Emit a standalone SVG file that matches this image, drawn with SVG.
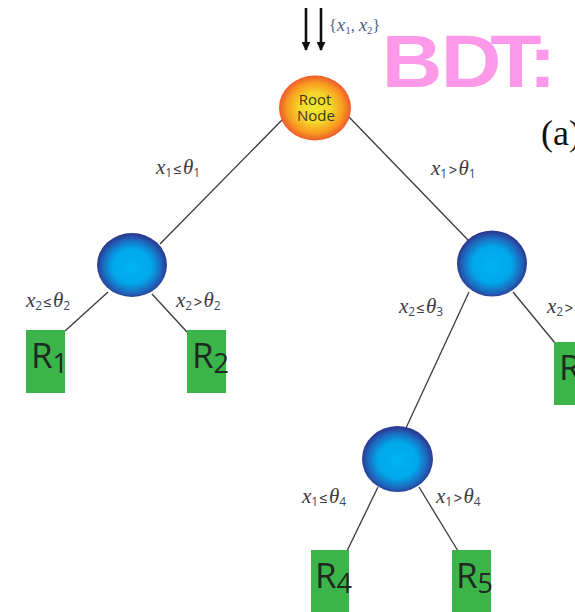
<svg xmlns="http://www.w3.org/2000/svg" width="575" height="612" viewBox="0 0 575 612">
  <defs>
    <radialGradient id="gBlue" cx="50%" cy="52%" r="50%">
      <stop offset="0" stop-color="#00b2f0"/>
      <stop offset="0.55" stop-color="#00a8ea"/>
      <stop offset="0.82" stop-color="#1c6cc0"/>
      <stop offset="1" stop-color="#2a3a92"/>
    </radialGradient>
    <radialGradient id="gRoot" cx="50%" cy="50%" r="50%">
      <stop offset="0" stop-color="#efe631"/>
      <stop offset="0.45" stop-color="#f4d62a"/>
      <stop offset="0.78" stop-color="#f79a1f"/>
      <stop offset="1" stop-color="#ee5a2c"/>
    </radialGradient>
    <marker id="arrow" viewBox="0 0 10 10" refX="9" refY="5" markerWidth="3.4" markerHeight="3.4" orient="auto" markerUnits="strokeWidth">
      <path d="M0,0 L10,5 L0,10 Z" fill="#111"/>
    </marker>
  </defs>
  <style>
    .edge { stroke: #3a3a3a; stroke-width: 1.3; fill: none; }
    .inp { stroke: #111; stroke-width: 2.6; marker-end: url(#arrow); }
    .leaf { fill: #3bb54a; }
    .leaftxt { font-family: "Open Sans", "Liberation Sans", sans-serif; font-size: 35px; fill: #1e2a1e; }
    .leafsub { font-size: 27px; }
    .lbl { font-family: "Liberation Serif", serif; fill: #3e3840; }
    .v { font-style: italic; font-size: 21px; }
    .op { font-family: "Liberation Sans", sans-serif; font-size: 14px; }
    .s { font-family: "Open Sans", "Liberation Sans", sans-serif; font-size: 12px; fill: #3a4a6a; }
    .roottxt { font-family: "Open Sans", "Liberation Sans", sans-serif; font-size: 15px; fill: #3a3a18; text-anchor: middle; }
  </style>

  <rect width="575" height="612" fill="#ffffff"/>

  <!-- title -->
  <text id="title" transform="translate(388,87) scale(1.12,1)" font-family="Liberation Sans, Arial, sans-serif" font-weight="bold" font-size="75" fill="#fd99e8"><tspan x="-5.5">B</tspan><tspan x="47.2">D</tspan><tspan x="91.3">T</tspan><tspan x="125.5">:</tspan></text>
  <text id="panel" x="541" y="145" font-family="Liberation Serif, serif" font-size="36" fill="#111">(a)</text>

  <!-- input arrows -->
  <g id="input">
    <line class="inp" x1="306" y1="8" x2="306" y2="50"/>
    <line class="inp" x1="321" y1="8" x2="321" y2="50"/>
    <text x="329" y="31" font-family="Liberation Serif, serif" fill="#4f5d80"><tspan font-size="16">{</tspan><tspan font-size="19" font-style="italic">x</tspan><tspan font-size="11" dy="3">1</tspan><tspan font-size="16" dy="-3">, </tspan><tspan font-size="19" font-style="italic">x</tspan><tspan font-size="11" dy="3">2</tspan><tspan font-size="16" dy="-3">}</tspan></text>
  </g>

  <!-- connectors -->
  <g id="connectors">
    <line class="edge" x1="282" y1="120" x2="160" y2="244"/>
    <line class="edge" x1="349" y1="117" x2="468" y2="240"/>
    <line class="edge" x1="108" y1="292" x2="65" y2="331"/>
    <line class="edge" x1="152" y1="294" x2="187" y2="332"/>
    <line class="edge" x1="513" y1="292" x2="555" y2="343"/>
    <line class="edge" x1="469" y1="292" x2="406" y2="428"/>
    <line class="edge" x1="378" y1="487" x2="347" y2="551"/>
    <line class="edge" x1="419" y1="487" x2="458" y2="551"/>
  </g>

  <!-- split conditions -->
  <g id="labels" class="lbl">
    <text x="156" y="174"><tspan class="v">x</tspan><tspan class="s" dy="3">1</tspan><tspan class="op" dy="-3" dx="1.5">≤</tspan><tspan class="v" dx="1.5">θ</tspan><tspan class="s" dy="3">1</tspan></text>
    <text x="431" y="175"><tspan class="v">x</tspan><tspan class="s" dy="3">1</tspan><tspan class="op" dy="-3" dx="1.5">&gt;</tspan><tspan class="v" dx="1.5">θ</tspan><tspan class="s" dy="3">1</tspan></text>
    <text x="26" y="307"><tspan class="v">x</tspan><tspan class="s" dy="3">2</tspan><tspan class="op" dy="-3" dx="1.5">≤</tspan><tspan class="v" dx="1.5">θ</tspan><tspan class="s" dy="3">2</tspan></text>
    <text x="176" y="307"><tspan class="v">x</tspan><tspan class="s" dy="3">2</tspan><tspan class="op" dy="-3" dx="1.5">&gt;</tspan><tspan class="v" dx="1.5">θ</tspan><tspan class="s" dy="3">2</tspan></text>
    <text x="399" y="313"><tspan class="v">x</tspan><tspan class="s" dy="3">2</tspan><tspan class="op" dy="-3" dx="1.5">≤</tspan><tspan class="v" dx="1.5">θ</tspan><tspan class="s" dy="3">3</tspan></text>
    <text x="547" y="313"><tspan class="v">x</tspan><tspan class="s" dy="3">2</tspan><tspan class="op" dy="-3" dx="1.5">&gt;</tspan><tspan class="v" dx="1.5">θ</tspan><tspan class="s" dy="3">3</tspan></text>
    <text x="302" y="503"><tspan class="v">x</tspan><tspan class="s" dy="3">1</tspan><tspan class="op" dy="-3" dx="1.5">≤</tspan><tspan class="v" dx="1.5">θ</tspan><tspan class="s" dy="3">4</tspan></text>
    <text x="436" y="503"><tspan class="v">x</tspan><tspan class="s" dy="3">1</tspan><tspan class="op" dy="-3" dx="1.5">&gt;</tspan><tspan class="v" dx="1.5">θ</tspan><tspan class="s" dy="3">4</tspan></text>
  </g>

  <!-- decision nodes -->
  <g id="root">
    <ellipse cx="315" cy="108" rx="36" ry="32.5" fill="url(#gRoot)"/>
    <text class="roottxt" x="315" y="105">Root</text>
    <text class="roottxt" x="316" y="121">Node</text>
  </g>
  <g id="n-left"><ellipse cx="132" cy="265" rx="35" ry="32" fill="url(#gBlue)"/></g>
  <g id="n-right"><ellipse cx="492" cy="263.5" rx="35" ry="33" fill="url(#gBlue)"/></g>
  <g id="n-bottom"><ellipse cx="397.5" cy="459" rx="35.5" ry="33" fill="url(#gBlue)"/></g>

  <!-- leaf regions -->
  <g id="leaf-r1"><rect class="leaf" x="26" y="330" width="39" height="63"/><text class="leaftxt" x="31" y="368">R<tspan class="leafsub" dy="5">1</tspan></text></g>
  <g id="leaf-r2"><rect class="leaf" x="187" y="330" width="39" height="63"/><text class="leaftxt" x="192" y="368">R<tspan class="leafsub" dy="5">2</tspan></text></g>
  <g id="leaf-r3"><rect class="leaf" x="554" y="342" width="40" height="63"/><text class="leaftxt" x="559" y="380">R<tspan class="leafsub" dy="5">3</tspan></text></g>
  <g id="leaf-r4"><rect class="leaf" x="311" y="550" width="38" height="63"/><text class="leaftxt" x="315" y="588">R<tspan class="leafsub" dy="5">4</tspan></text></g>
  <g id="leaf-r5"><rect class="leaf" x="452" y="550" width="39" height="63"/><text class="leaftxt" x="456" y="588">R<tspan class="leafsub" dy="5">5</tspan></text></g>
</svg>
